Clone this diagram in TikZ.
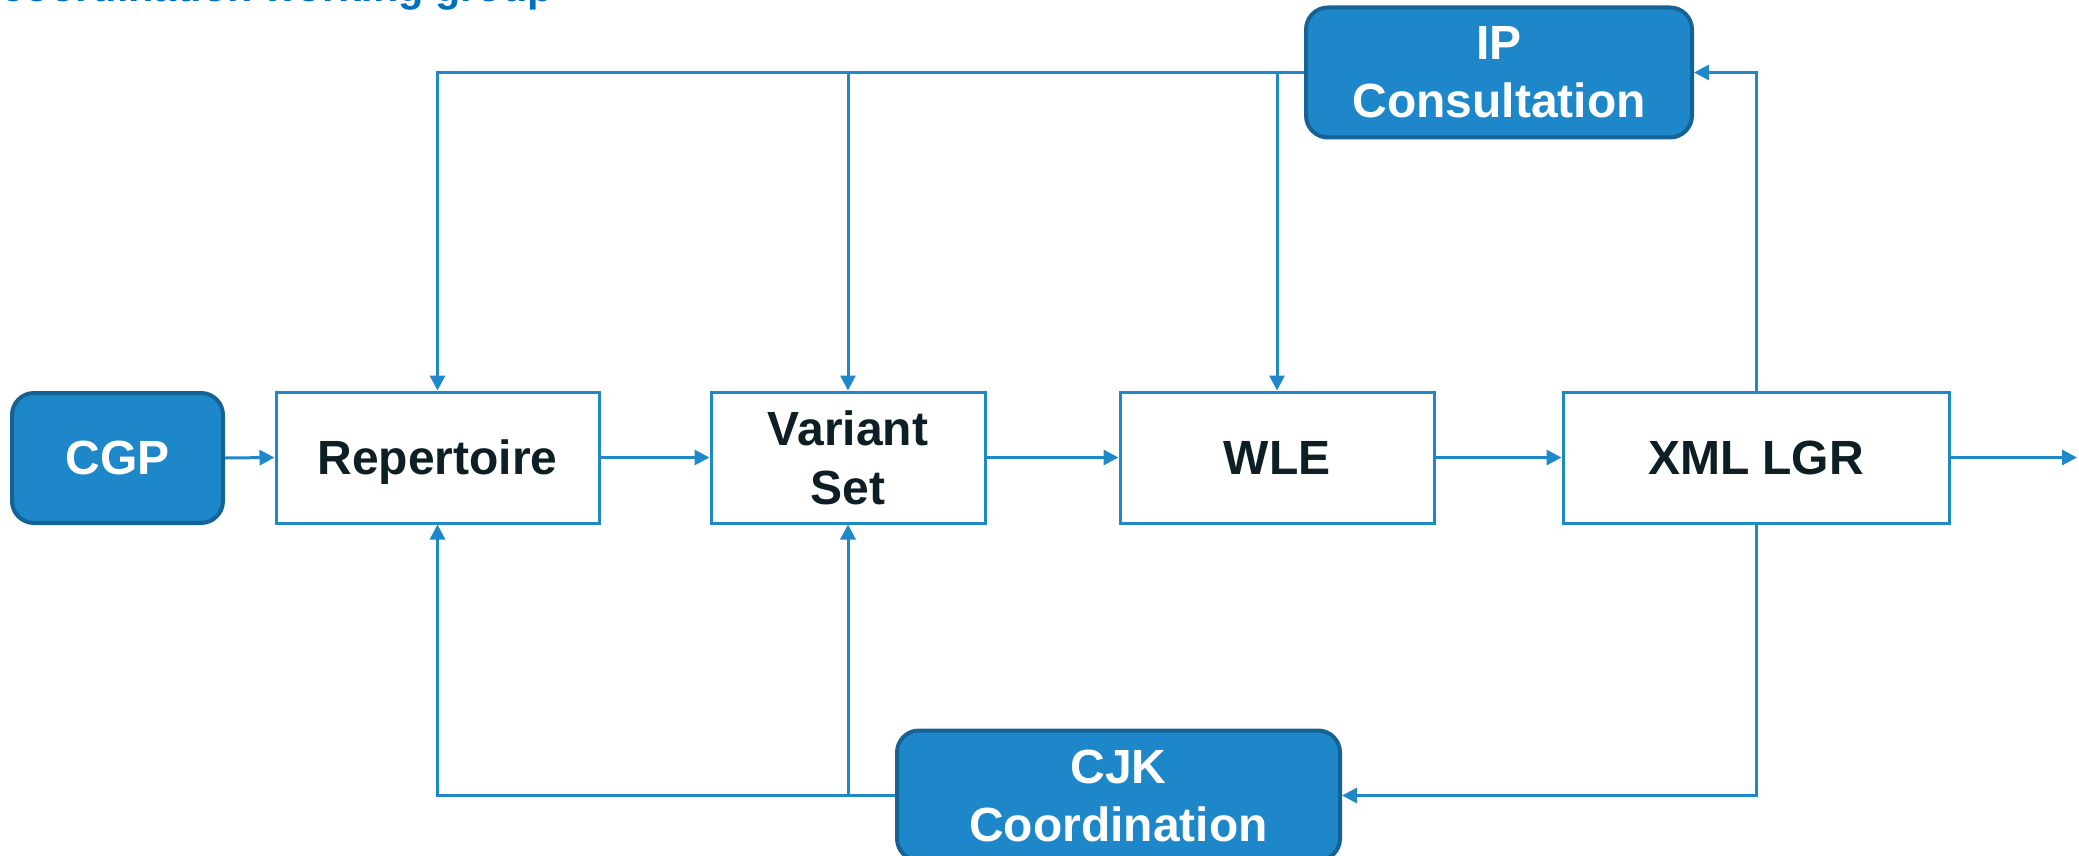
\documentclass[tikz,border=0pt]{standalone}
\usepackage{fontspec}
\setmainfont{Liberation Sans}
\usetikzlibrary{arrows.meta}
\definecolor{lineblue}{RGB}{30,136,200}
\definecolor{fillblue}{RGB}{29,135,201}
\definecolor{edgeblue}{RGB}{22,98,148}
\definecolor{titleblue}{RGB}{0,112,192}
\definecolor{darktext}{RGB}{13,30,36}
\begin{document}
\begin{tikzpicture}[x=1pt,y=-1pt,
  whitebox/.style={draw=lineblue, line width=3pt, fill=white, rectangle,
    inner sep=0pt, align=center, text=darktext,
    font=\fontsize{48}{59}\selectfont\bfseries},
  bluebox/.style={draw=edgeblue, line width=4pt, fill=fillblue, rectangle,
    rounded corners=22pt, inner sep=0pt, align=center, text=white,
    font=\fontsize{48}{58}\selectfont\bfseries},
  arr/.style={draw=lineblue, line width=3pt, -{Triangle[length=15pt,width=15pt]}},
  conn/.style={draw=lineblue, line width=3pt}
]
\useasboundingbox (0,0) rectangle (2079,856);
\clip (0,0) rectangle (2079,856);

% title (cut off at top)
\node[anchor=base east, inner sep=0pt, text=titleblue,
  font=\fontsize{41.5}{50}\selectfont\bfseries] (title) at (553,2) {coordination working group};

% nodes
\node[bluebox, minimum width=211pt, minimum height=130pt] (cgp) at (117.5,458) {CGP};
\node[whitebox, minimum width=323pt, minimum height=131pt, text depth=0pt] (rep) at (437.5,457.5) {Repertoire};
\node[whitebox, minimum width=274pt, minimum height=131pt] (var) at (848,457.5) {Variant\\Set};
\node[whitebox, minimum width=314pt, minimum height=131pt] (wle) at (1277,457.5) {WLE};
\node[whitebox, minimum width=386pt, minimum height=131pt] (xml) at (1756,457.5) {XML LGR};
\node[bluebox, minimum width=386pt, minimum height=130pt] (ip) at (1499,72.5) {IP\\Consultation};
\node[bluebox, minimum width=443pt, minimum height=130pt] (cjk) at (1118.5,795.5) {CJK\\Coordination};
\coordinate (out) at (2077,457.5);

% main flow
\draw[arr] (cgp.east) -- (rep.west);
\draw[arr] (rep.east) -- (var.west);
\draw[arr] (var.east) -- (wle.west);
\draw[arr] (wle.east) -- (xml.west);
\draw[arr] (xml.east) -- (out);

% top feedback
\draw[arr] (xml.north) |- (ip.east);
\draw[arr] (ip.west) -| (rep.north);
\draw[arr] (var.north |- ip.west) -- (var.north);
\draw[arr] (wle.north |- ip.west) -- (wle.north);

% bottom feedback
\draw[arr] (xml.south) |- (cjk.east);
\draw[arr] (cjk.west) -| (rep.south);
\draw[arr] (var.south |- cjk.west) -- (var.south);
\end{tikzpicture}
\end{document}
